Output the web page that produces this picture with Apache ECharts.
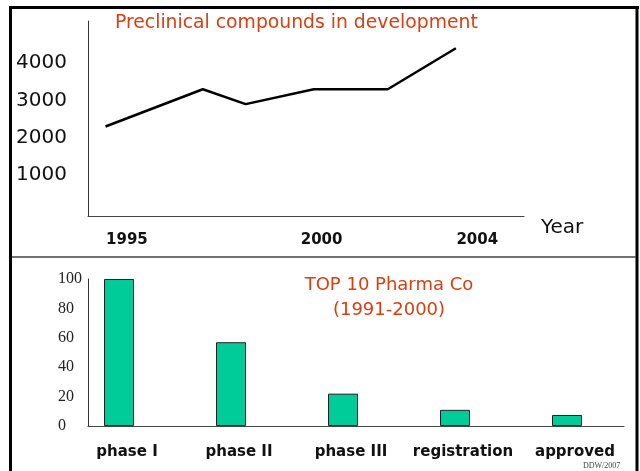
<!DOCTYPE html>
<html>
<head>
<meta charset="utf-8">
<script src="https://cdn.jsdelivr.net/npm/echarts@6/dist/echarts.min.js"></script>
<style>
html,body{margin:0;padding:0;background:#fff;}
#c{width:640px;height:471px;}
</style>
</head>
<body>
<div id="c"></div>
<script>
// ---- data ----
const years = [1994.45, 1996.95, 1998.05, 1999.8, 2001.7, 2003.45];
const compounds = [2300, 3300, 2900, 3300, 3300, 4400];
const yearTicks = [1995, 2000, 2004];
const compoundTicks = [1000, 2000, 3000, 4000];
const phases = ['phase I', 'phase II', 'phase III', 'registration', 'approved'];
const percentTicks = [0, 20, 40, 60, 80, 100];
const phaseValues = [100, 57, 22, 11, 7.5];

const FONT = 'DejaVu Sans';
const RED = '#d84012';
const plain = v => String(v);

const chart = echarts.init(document.getElementById('c'), null, {renderer: 'canvas'});
chart.setOption({
  animation: false,
  backgroundColor: '#fff',
  title: [
    {text: 'Preclinical compounds in development', left: 115, top: 14, padding: 0,
     textStyle: {fontFamily: FONT, fontSize: 18.8, fontWeight: 'normal', color: RED}},
    {text: 'TOP 10 Pharma Co\n(1991-2000)', left: 389, top: 273, textAlign: 'center', padding: 0,
     textStyle: {fontFamily: FONT, fontSize: 18, fontWeight: 'normal', color: RED, lineHeight: 25}}
  ],
  grid: [
    {left: 88, right: 116, top: 21, bottom: 255},
    {left: 88, right: 16, top: 279, bottom: 45},
    {left: 63, right: 17, top: 279, bottom: 45}
  ],
  xAxis: [
    {type: 'value', gridIndex: 0, min: 1994, max: 2005.2,
     name: 'Year', nameLocation: 'end', nameGap: 17,
     nameTextStyle: {fontFamily: FONT, fontSize: 20, color: '#111', verticalAlign: 'top', lineHeight: 23},
     axisLine: {show: true, onZero: false, lineStyle: {color: '#444', width: 1}},
     axisTick: {show: false}, splitLine: {show: false},
     axisLabel: {customValues: yearTicks, formatter: plain, fontFamily: FONT, fontSize: 15, fontWeight: 'bold', color: '#111', margin: 17}},
    {type: 'value', gridIndex: 1, min: 0, max: 1,
     axisLine: {show: true, onZero: false, lineStyle: {color: '#444', width: 1}},
     axisTick: {show: false}, axisLabel: {show: false}, splitLine: {show: false}},
    {type: 'category', gridIndex: 2, data: phases,
     axisLine: {show: false}, axisTick: {show: false}, splitLine: {show: false},
     axisLabel: {interval: 0, hideOverlap: false, padding: [0, 0, 0, 16], fontFamily: FONT, fontSize: 15, fontWeight: 'bold', color: '#111', margin: 19}}
  ],
  yAxis: [
    {type: 'value', gridIndex: 0, min: -100, max: 5130,
     axisLine: {show: true, onZero: false, lineStyle: {color: '#333', width: 1}},
     axisTick: {show: false}, splitLine: {show: false},
     axisLabel: {customValues: compoundTicks, formatter: plain, align: 'left', margin: 72, padding: [3, 0, 0, 0], fontFamily: FONT, fontSize: 20, color: '#111'}},
    {type: 'value', gridIndex: 1, min: 0, max: 100,
     axisLine: {show: true, onZero: false, lineStyle: {color: '#333', width: 1}},
     axisTick: {show: false}, splitLine: {show: false},
     axisLabel: {customValues: percentTicks, formatter: plain, align: 'left', margin: 30, fontFamily: 'Liberation Serif', fontSize: 16, color: '#222'}},
    {type: 'value', gridIndex: 2, min: 0, max: 100, show: false}
  ],
  series: [
    {type: 'line', xAxisIndex: 0, yAxisIndex: 0,
     data: years.map((y, i) => [y, compounds[i]]),
     symbol: 'none', lineStyle: {color: '#000', width: 2.5}},
    {type: 'bar', xAxisIndex: 2, yAxisIndex: 2, data: phaseValues, barWidth: 30,
     itemStyle: {color: '#00cc99', borderColor: '#222', borderWidth: 1}}
  ],
  graphic: [
    {type: 'line', shape: {x1: 10.5, y1: 6, x2: 10.5, y2: 471}, style: {stroke: '#000', lineWidth: 3}},
    {type: 'line', shape: {x1: 9, y1: 7.5, x2: 639, y2: 7.5}, style: {stroke: '#000', lineWidth: 3}},
    {type: 'line', shape: {x1: 637, y1: 6, x2: 637, y2: 471}, style: {stroke: '#000', lineWidth: 3}},
    {type: 'line', shape: {x1: 12, y1: 257, x2: 636, y2: 257}, style: {stroke: '#444', lineWidth: 1.5}},
    {type: 'text', left: 583, top: 462, style: {text: 'DDW/2007', font: '8px "Liberation Serif"', fill: '#444'}}
  ]
});
</script>
</body>
</html>
